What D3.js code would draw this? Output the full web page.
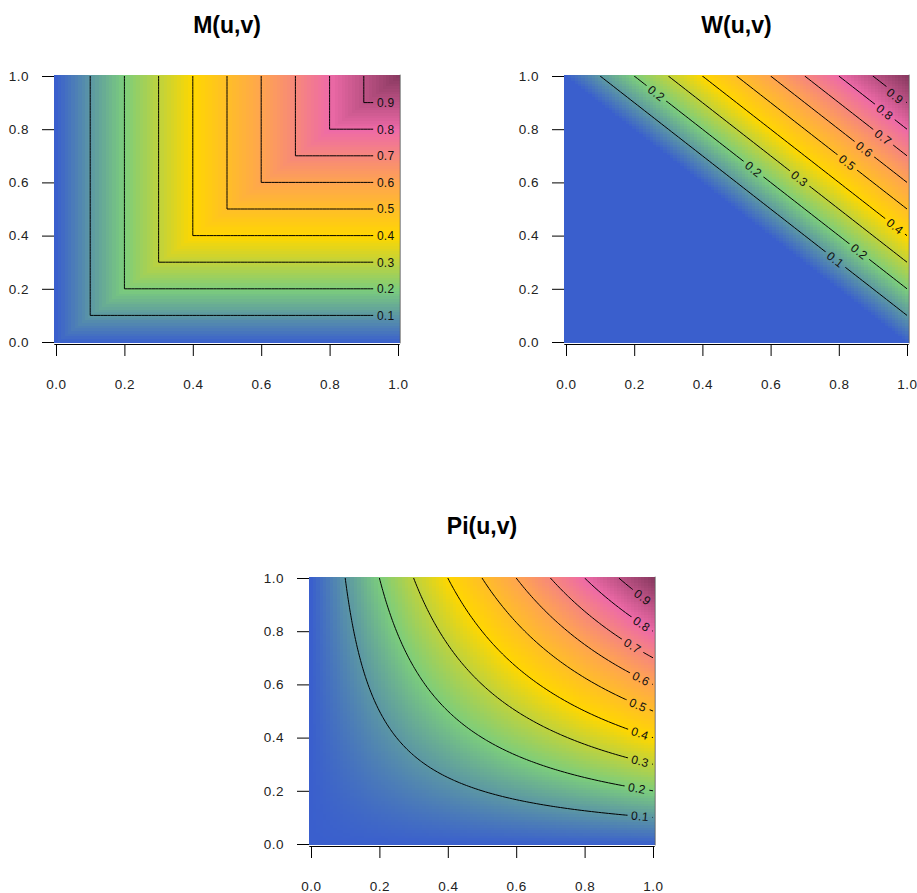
<!DOCTYPE html>
<html><head><meta charset="utf-8">
<script src="https://cdn.jsdelivr.net/npm/d3@7"></script>
<style>body{margin:0;background:#fff}svg{display:block}</style>
</head><body>
<svg id="chart" width="917" height="893"></svg>
<script>
// ---------- data ----------
const gridSteps = 100;                       // resolution of the u,v grid
const tickValues = [0, 0.2, 0.4, 0.6, 0.8, 1.0];
const tickLabels = ["0.0", "0.2", "0.4", "0.6", "0.8", "1.0"];
const contourLevels = [0.1, 0.2, 0.3, 0.4, 0.5, 0.6, 0.7, 0.8, 0.9];
const contourLabelText = ["0.1","0.2","0.3","0.4","0.5","0.6","0.7","0.8","0.9"];
const rampStops = [0, 0.2, 0.4, 0.6, 0.8, 1.0];
const rampColors = ["#3A5FCD", "#7CCD7C", "#FFD700", "#FFA54F", "#EE6AA7", "#8B3A62"];
const titles = ["M(u,v)", "W(u,v)", "Pi(u,v)"];
// contour label positions: [level, u, v]
const labelsM = [[0.1,0.964,0.1],[0.2,0.964,0.2],[0.3,0.964,0.3],[0.4,0.964,0.4],[0.5,0.964,0.5],
                 [0.6,0.964,0.6],[0.7,0.964,0.7],[0.8,0.964,0.8],[0.9,0.964,0.9]];
const labelsW = [[0.1,0.79,0.31],[0.2,0.265,0.935],[0.2,0.55,0.65],[0.2,0.86,0.34],[0.3,0.685,0.615],
                 [0.4,0.965,0.435],[0.5,0.825,0.675],[0.6,0.875,0.725],[0.7,0.93,0.77],
                 [0.8,0.935,0.865],[0.9,0.965,0.925]];
const labelsPi = [[0.1,0.962,0.105],[0.2,0.953,0.21],[0.3,0.962,0.312],[0.4,0.962,0.416],[0.5,0.956,0.523],
                  [0.6,0.965,0.622],[0.7,0.94,0.745],[0.8,0.967,0.827],[0.9,0.97,0.928]];
// the three copulas
const copulaM = (u, v) => Math.min(u, v);
const copulaW = (u, v) => Math.max(u + v - 1, 0);
const copulaPi = (u, v) => u * v;

// ---------- layout ----------
const panels = [
  {title: titles[0], fn: copulaM, labels: labelsM, x: [56, 398], y: [342, 76], titleY: 33},
  {title: titles[1], fn: copulaW, labels: labelsW, x: [566, 907], y: [342, 76], titleY: 33},
  {title: titles[2], fn: copulaPi, labels: labelsPi, x: [311, 653], y: [844, 578], titleY: 534}
];
const FONT = "'Liberation Sans', Arial, Helvetica, sans-serif";

const svg = d3.select("#chart");
svg.append("rect").attr("width", 917).attr("height", 893).attr("fill", "#fff");
const defs = svg.append("defs");
const color = d3.scaleLinear().domain(rampStops).range(rampColors).interpolate(d3.interpolateRgb);

panels.forEach((p, k) => {
  const xs = d3.scaleLinear().domain([0, 1]).range(p.x);
  const ys = d3.scaleLinear().domain([0, 1]).range(p.y);
  const n = gridSteps + 1;
  const grid = d3.range(n).map(i => i / gridSteps);
  const values = new Array(n * n);
  for (let j = 0; j < n; j++) for (let i = 0; i < n; i++) values[j * n + i] = p.fn(grid[i], grid[j]);

  const g = svg.append("g");
  // image cells
  const h = 0.5 / gridSteps;
  const cw = xs(2 * h) - xs(0), ch = ys(0) - ys(2 * h);
  const cells = [];
  for (let j = 0; j < n; j++) for (let i = 0; i < n; i++) cells.push([i, j]);
  const x0 = xs(-h), x1 = xs(1 + h), yTop = ys(1 + h), yBot = ys(-h);
  g.append("g").attr("shape-rendering", "crispEdges").selectAll("rect").data(cells).join("rect")
    .attr("x", d => xs(grid[d[0]] - h))
    .attr("y", d => ys(grid[d[1]] + h))
    .attr("width", d => Math.min(cw + 1, x1 - xs(grid[d[0]] - h)))
    .attr("height", d => Math.min(ch + 1, yBot - ys(grid[d[1]] + h)))
    .attr("fill", d => color(values[d[1] * n + d[0]]));

  // label geometry
  const fs = 12;
  const labs = p.labels.map(([lv, u, v]) => {
    const i = Math.max(1, Math.min(n - 2, Math.round(u * gridSteps)));
    const j = Math.max(1, Math.min(n - 2, Math.round(v * gridSteps)));
    const gx = (values[j * n + i + 1] - values[j * n + i - 1]);
    const gy = (values[(j + 1) * n + i] - values[(j - 1) * n + i]);
    const sx = xs(1) - xs(0), sy = ys(0) - ys(1);
    const ang = Math.atan2(gx * sy, gy * sx) * 180 / Math.PI;
    return {text: contourLabelText[contourLevels.indexOf(lv)], px: xs(u), py: ys(v), ang};
  });

  // mask to break lines at labels
  const mask = defs.append("mask").attr("id", "mask" + k)
    .attr("maskUnits", "userSpaceOnUse").attr("x", 0).attr("y", 0).attr("width", 917).attr("height", 893);
  mask.append("rect").attr("width", 917).attr("height", 893).attr("fill", "#fff");
  mask.selectAll("rect.gap").data(labs).join("rect").attr("class", "gap")
    .attr("x", -12.5).attr("y", -5).attr("width", 25).attr("height", 10)
    .attr("fill", "#000")
    .attr("transform", d => `translate(${d.px},${d.py}) rotate(${d.ang})`);
  defs.append("clipPath").attr("id", "clip" + k).append("rect")
    .attr("x", xs(0)).attr("y", ys(1)).attr("width", xs(1) - xs(0)).attr("height", ys(0) - ys(1));

  const contours = d3.contours().size([n, n]).thresholds(contourLevels)(values);
  const proj = d3.geoTransform({point: function(x, y) {
    this.stream.point(xs((x - 0.5) / gridSteps), ys((y - 0.5) / gridSteps));
  }});
  const path = d3.geoPath(proj);
  g.append("g").attr("clip-path", `url(#clip${k})`)
    .append("g").attr("mask", `url(#mask${k})`)
    .selectAll("path").data(contours).join("path")
    .attr("d", path).attr("fill", "none").attr("stroke", "#000").attr("stroke-width", 1);

  g.append("g").selectAll("text").data(labs).join("text")
    .attr("transform", d => `translate(${d.px},${d.py}) rotate(${d.ang})`)
    .attr("text-anchor", "middle").attr("dy", "0.36em")
    .attr("font-family", FONT).attr("font-size", fs).attr("letter-spacing", 0.3).attr("fill", "#111")
    .text(d => d.text);

  // axes
  const xAxis = g.append("g").attr("transform", `translate(0,${ys(0) + 2})`)
    .call(d3.axisBottom(xs).tickValues(tickValues).tickFormat((d, i) => tickLabels[i]).tickSize(12).tickPadding(23));
  xAxis.select(".domain").remove();
  xAxis.append("line").attr("x1", x0).attr("x2", x1).attr("y1", 0.5).attr("y2", 0.5)
    .attr("stroke", "#000");
  const yAxis = g.append("g").attr("transform", `translate(${xs(0) - 2},0)`)
    .call(d3.axisLeft(ys).tickValues(tickValues).tickFormat((d, i) => tickLabels[i]).tickSize(12).tickPadding(13));
  yAxis.select(".domain").remove();
  [xAxis, yAxis].forEach(a => a.attr("font-family", FONT).attr("font-size", 13.5)
    .selectAll("text").attr("fill", "#222").attr("letter-spacing", 0.5));
  g.append("line").attr("x1", x1 + 0.5).attr("x2", x1 + 0.5).attr("y1", yTop).attr("y2", yBot)
    .attr("stroke", "#555").attr("stroke-width", 0.8);

  // title
  g.append("text").attr("x", (p.x[0] + p.x[1]) / 2).attr("y", p.titleY)
    .attr("text-anchor", "middle").attr("font-family", FONT).attr("font-weight", "bold")
    .attr("font-size", 23).attr("fill", "#000").text(p.title);
});
</script>
</body></html>
